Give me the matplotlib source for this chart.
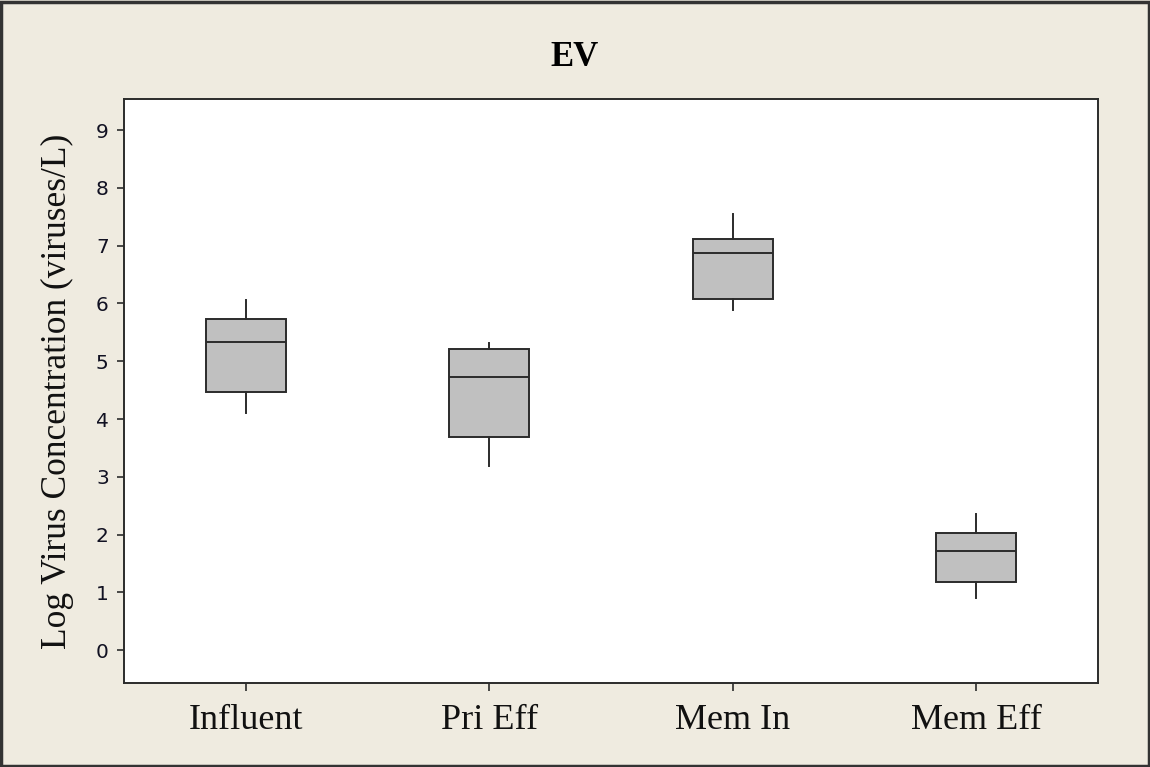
import matplotlib
matplotlib.use("Agg")
import matplotlib.pyplot as plt
from matplotlib.patches import Rectangle

categories = ["Influent", "Pri Eff", "Mem In", "Mem Eff"]
whisker_low = [4.10, 3.19, 5.88, 0.91]
q1 = [4.46, 3.69, 6.08, 1.17]
median = [5.33, 4.72, 6.88, 1.71]
q3 = [5.73, 5.21, 7.11, 2.02]
whisker_high = [6.06, 5.32, 7.55, 2.35]
yticks = [0, 1, 2, 3, 4, 5, 6, 7, 8, 9]

bg = "#EFEBE0"
dark = "#2b2b2b"

fig = plt.figure(figsize=(11.5, 7.67), dpi=100, facecolor=bg)
ax = fig.add_axes([124/1150, 1-683/767, (1098-124)/1150, (683-99)/767])
ax.set_facecolor("white")

stats = []
for i, c in enumerate(categories):
    stats.append(dict(label=c, whislo=whisker_low[i], q1=q1[i], med=median[i],
                      q3=q3[i], whishi=whisker_high[i], fliers=[]))

ax.bxp(stats, positions=range(1, len(categories)+1), widths=0.33,
       patch_artist=True, showcaps=False, showfliers=False,
       boxprops=dict(facecolor="#C0C0C0", edgecolor=dark, linewidth=1.4),
       medianprops=dict(color=dark, linewidth=1.4),
       whiskerprops=dict(color=dark, linewidth=1.4))

ax.set_xlim(0.5, 4.5)
ax.set_ylim(-0.57, 9.54)
ax.set_yticks(yticks)
ax.set_xticks(range(1, len(categories)+1))
ax.set_xticklabels(categories, fontfamily="Liberation Serif", fontsize=26, color="#111111")
for lab in ax.get_yticklabels():
    lab.set_fontfamily("DejaVu Sans")
    lab.set_fontsize(14.5)
    lab.set_color("#111122")
ax.tick_params(axis="y", direction="out", length=5, width=1.2, color=dark, pad=6)
ax.tick_params(axis="x", direction="out", length=6, width=1.2, color=dark, pad=9)
for s in ax.spines.values():
    s.set_linewidth(1.4)
    s.set_color(dark)

fig.text(0.5, 1-58/767, "EV", ha="center", va="center",
         fontfamily="Liberation Serif", fontweight="bold", fontsize=25)
fig.text(57/1150, 1-391/767, "Log Virus Concentration (viruses/L)", rotation=90,
         ha="center", va="center", fontfamily="Liberation Serif", fontsize=25.5,
         color="#111111")

fig.patches.append(Rectangle((0.001, 0.001), 0.998, 0.997, transform=fig.transFigure,
                             fill=False, edgecolor="#333333", linewidth=2.5))

fig.savefig("out.png", dpi=100, facecolor=bg)
